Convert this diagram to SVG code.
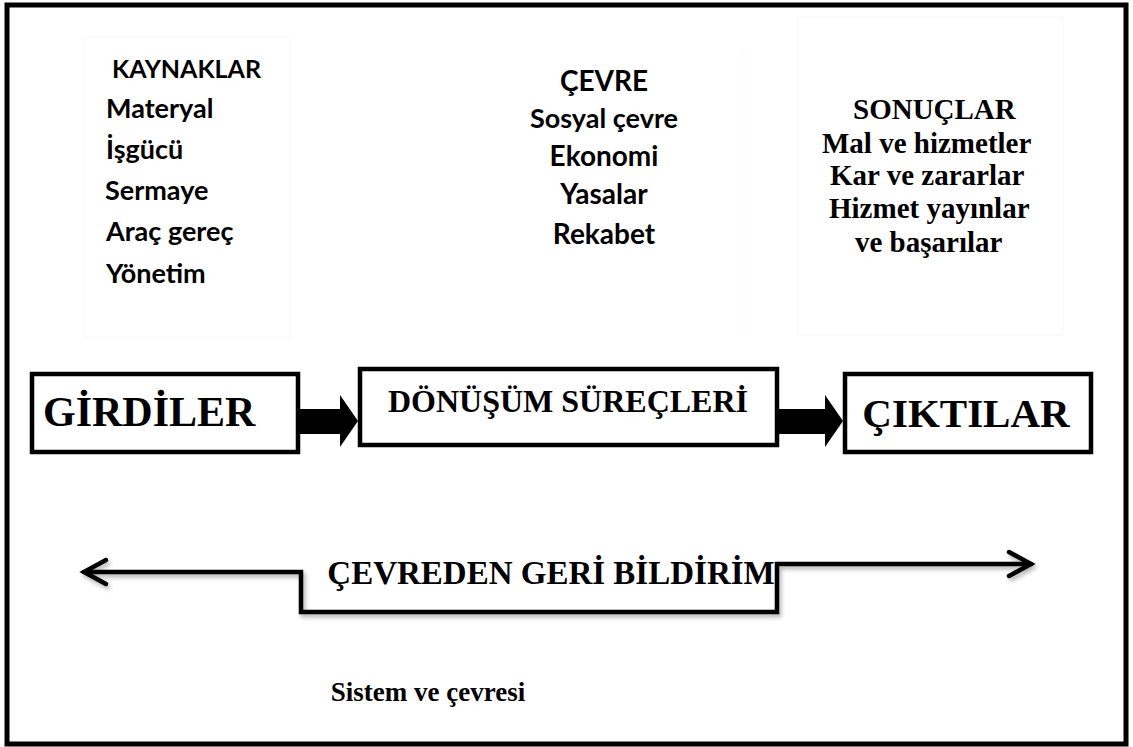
<svg xmlns="http://www.w3.org/2000/svg" width="1133" height="747" viewBox="0 0 1133 747">
<defs>
<style>
.box{fill:#fff;stroke:#000;stroke-width:4.5}
.faint{fill:none;stroke:#f8f8f8;stroke-width:1}
.cal{font-family:Lato,"Open Sans","Liberation Sans",sans-serif;font-weight:bold;fill:#000}
.tim{font-family:"Liberation Serif","Times New Roman",serif;font-weight:bold;fill:#000}
.fb{fill:none;stroke:#000;stroke-width:4.5;stroke-linecap:round;stroke-linejoin:miter}
.blk{fill:#000}
</style>
<filter id="sh" x="-5%" y="-30%" width="110%" height="170%">
<feDropShadow dx="2" dy="3" stdDeviation="2" flood-color="#000" flood-opacity="0.3"/>
</filter>
</defs>
<rect x="0" y="0" width="1133" height="747" fill="#fff"/>
<rect x="7" y="5" width="1119" height="739" fill="none" stroke="#000" stroke-width="5"/>

<g id="kaynaklar">
<rect class="faint" x="83" y="37" width="207" height="300"/>
<text class="cal" font-size="25" x="112" y="78">KAYNAKLAR</text>
<text class="cal" font-size="27" x="106" y="118">Materyal</text>
<text class="cal" font-size="27" x="106" y="159">İşgücü</text>
<text class="cal" font-size="27" x="105" y="200">Sermaye</text>
<text class="cal" font-size="27" x="106" y="241">Araç gereç</text>
<text class="cal" font-size="27" x="106" y="283">Yönetim</text>
</g>

<g id="cevre">
<line class="faint" x1="744" y1="50" x2="744" y2="337"/>
<g text-anchor="middle">
<text class="cal" font-size="28" x="604" y="91">ÇEVRE</text>
<text class="cal" font-size="27" x="604" y="128">Sosyal çevre</text>
<text class="cal" font-size="28" x="604" y="166">Ekonomi</text>
<text class="cal" font-size="28" x="604" y="204">Yasalar</text>
<text class="cal" font-size="28" x="604" y="244">Rekabet</text>
</g>
</g>

<g id="sonuclar">
<rect class="faint" x="798" y="17" width="265" height="318"/>
<text class="tim" font-size="29" x="853" y="119">SONUÇLAR</text>
<text class="tim" font-size="29" x="822" y="153">Mal ve hizmetler</text>
<text class="tim" font-size="29" x="830" y="185">Kar ve zararlar</text>
<text class="tim" font-size="29" x="829" y="218">Hizmet yayınlar</text>
<text class="tim" font-size="29" x="855" y="252">ve başarılar</text>
</g>

<g id="girdiler">
<rect class="box" x="32" y="374" width="266" height="78"/>
<text class="tim" font-size="42" x="43" y="426">GİRDİLER</text>
</g>

<g id="donusum">
<rect class="box" x="360" y="369" width="417" height="76"/>
<text class="tim" font-size="32" x="568" y="412" text-anchor="middle">DÖNÜŞÜM SÜREÇLERİ</text>
</g>

<g id="ciktilar">
<rect class="box" x="845" y="374" width="246" height="78"/>
<text class="tim" font-size="41" x="966" y="427" text-anchor="middle">ÇIKTILAR</text>
</g>

<g id="feedback-label">
<text class="tim" font-size="33" x="551" y="584" text-anchor="middle">ÇEVREDEN GERİ BİLDİRİM</text>
</g>

<g id="caption">
<text class="tim" font-size="27" x="428" y="701" text-anchor="middle">Sistem ve çevresi</text>
</g>

<g id="connectors">
<polygon class="blk" points="298,409 340,409 340,395 358,421 340,447 340,434 298,434"/>
<polygon class="blk" points="777,409 825,409 825,395 843,421 825,447 825,434 777,434"/>
<g filter="url(#sh)">
<polyline class="fb" points="84,572 301,572 301,612 777,612 777,564 1031,564"/>
<polyline class="fb" points="106,560 84,572 106,584"/>
<polyline class="fb" points="1009,552 1031,564 1009,576"/>
</g>
</g>
</svg>
